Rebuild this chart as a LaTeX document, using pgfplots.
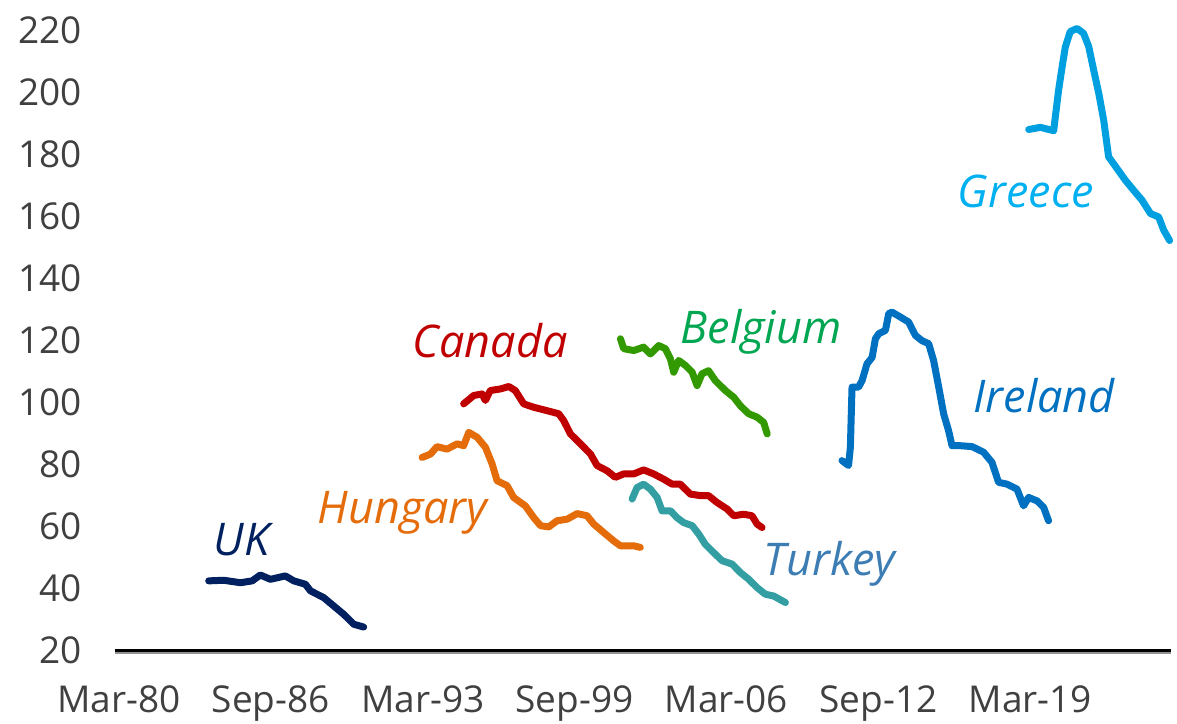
\documentclass[border=0pt]{standalone}
\usepackage{fontspec}
\setmainfont{Open Sans}
\usepackage{pgfplots}
\pgfplotsset{compat=1.18}
\usetikzlibrary{calc}
\definecolor{cUK}{HTML}{002060}
\definecolor{cHU}{HTML}{E46C0A}
\definecolor{cCA}{HTML}{C00000}
\definecolor{cBE}{HTML}{339900}
\definecolor{cBEl}{HTML}{00A651}
\definecolor{cTR}{HTML}{339FA3}
\definecolor{cTRl}{HTML}{3C7DB4}
\definecolor{cIE}{HTML}{0070C0}
\definecolor{cGR}{HTML}{00A0E0}
\definecolor{cGRl}{HTML}{00B0F0}
\definecolor{tickgray}{HTML}{404040}
\tikzset{lbl/.style={anchor=base west, inner sep=0pt, font=\itshape\fontsize{22.5bp}{26bp}\selectfont}}
\begin{document}
\begin{tikzpicture}
\begin{axis}[name=ax, scale only axis, width=528bp, height=310bp,
 xmin=1980.0, xmax=2025.19, ymin=20, ymax=220,
 axis x line*=bottom, axis y line*=left,
 x axis line style={-, black, line width=1.5bp},
 y axis line style={draw=none},
 major tick length=0pt,
 xtick={1980.167,1986.667,1993.167,1999.667,2006.167,2012.667,2019.167},
 xticklabels={Mar-80,Sep-86,Mar-93,Sep-99,Mar-06,Sep-12,Mar-19},
 ytick={20,40,...,220},
 tick label style={font=\fontsize{18.5bp}{22bp}\selectfont, text=tickgray},
 /pgf/number format/assume math mode=true,
 yticklabel style={anchor=east, inner sep=0pt, xshift=-16.5bp},
 xticklabel style={anchor=north, inner sep=0pt, yshift=-17.5bp},
 clip=false,
 every axis plot/.append style={line width=3.5bp, line join=round, line cap=round, mark=none},
]
% UK
\addplot[color=cUK] coordinates {
(1984.01,42.3)(1984.65,42.5)(1985.37,41.7)(1985.87,42.3)(1986.22,44.2)(1986.65,42.8)
(1987.29,43.9)(1987.65,42.3)(1988.15,41.2)(1988.36,39.1)(1988.93,36.9)(1989.36,34.2)
(1989.79,31.5)(1990.22,28.3)(1990.64,27.4)};
% Hungary
\addplot[color=cHU] coordinates {
(1993.14,82.1)(1993.50,83.2)(1993.78,85.6)(1994.21,84.8)(1994.64,86.5)(1994.92,85.9)
(1995.14,90.2)(1995.50,88.6)(1995.85,85.4)(1996.14,80.0)(1996.35,74.6)(1996.78,73.0)
(1997.06,69.2)(1997.56,66.5)(1997.92,62.7)(1998.21,60.1)(1998.56,59.7)(1998.92,61.7)
(1999.35,62.2)(1999.78,64.0)(2000.20,63.3)(2000.49,60.6)(2000.91,57.9)(2001.34,55.2)
(2001.63,53.6)(2002.20,53.6)(2002.48,53.1)};
% Canada
\addplot[color=cCA] coordinates {
(1994.92,99.4)(1995.35,102.1)(1995.71,102.6)(1995.85,100.5)(1996.06,103.7)(1996.49,104.2)
(1996.85,105.0)(1997.13,103.7)(1997.49,99.4)(1997.92,98.3)(1998.49,97.2)(1998.99,96.2)
(1999.20,94.0)(1999.49,89.7)(1999.92,86.5)(2000.35,83.2)(2000.63,79.5)(2001.06,77.8)
(2001.41,75.7)(2001.77,76.8)(2002.20,76.8)(2002.62,78.1)(2003.05,76.8)(2003.48,75.1)
(2003.84,73.5)(2004.19,73.5)(2004.62,70.3)(2005.05,69.8)(2005.40,69.8)(2005.76,67.6)
(2006.19,65.5)(2006.48,63.3)(2006.90,63.8)(2007.26,63.3)(2007.48,60.6)(2007.69,59.5)};
% Belgium
\addplot[color=cBE] coordinates {
(2001.63,120.4)(2001.77,117.2)(2002.20,116.6)(2002.62,117.7)(2002.91,115.5)(2003.27,118.2)
(2003.55,117.2)(2003.77,113.9)(2003.91,109.6)(2004.12,113.4)(2004.41,111.8)(2004.70,109.6)
(2004.91,105.3)(2005.12,109.1)(2005.40,110.1)(2005.69,106.9)(2006.12,103.7)(2006.48,101.5)
(2006.76,98.8)(2007.12,96.2)(2007.48,95.1)(2007.76,93.4)(2007.91,89.7)};
% Turkey
\addplot[color=cTR] coordinates {
(2002.13,68.7)(2002.34,72.4)(2002.62,73.5)(2002.91,71.9)(2003.20,69.2)(2003.41,64.9)
(2003.77,64.9)(2004.05,62.7)(2004.33,61.1)(2004.70,60.1)(2004.98,57.4)(2005.26,54.1)
(2005.62,51.4)(2005.98,48.8)(2006.41,47.7)(2006.76,45.0)(2007.12,42.8)(2007.48,40.1)
(2007.83,38.0)(2008.19,37.4)(2008.69,35.3)};
% Ireland
\addplot[color=cIE] coordinates {
(2011.11,81.1)(2011.39,79.5)(2011.47,85.4)(2011.50,94.0)(2011.54,104.8)(2011.82,104.8)
(2011.97,106.9)(2012.18,112.3)(2012.40,114.4)(2012.54,120.4)(2012.68,122.0)(2012.97,123.1)
(2013.11,128.5)(2013.25,129.0)(2013.61,127.4)(2013.96,125.8)(2014.25,121.5)(2014.53,119.8)
(2014.82,118.8)(2015.03,113.4)(2015.25,104.8)(2015.46,96.2)(2015.67,90.8)(2015.82,85.9)
(2016.18,85.9)(2016.68,85.6)(2017.17,83.8)(2017.53,80.5)(2017.81,74.1)(2018.17,73.5)
(2018.60,71.9)(2018.88,66.5)(2019.10,69.2)(2019.46,68.1)(2019.74,66.0)(2019.95,61.7)};
% Greece
\addplot[color=cGR] coordinates {
(2019.10,187.9)(2019.60,188.6)(2020.17,187.5)(2020.24,192.0)(2020.38,200.6)(2020.53,208.1)
(2020.67,214.6)(2020.88,219.5)(2021.17,220.5)(2021.45,218.9)(2021.67,214.6)(2021.88,207.1)
(2022.10,199.5)(2022.31,190.9)(2022.52,179.1)(2022.88,175.3)(2023.24,171.5)(2023.59,168.3)
(2023.95,165.1)(2024.31,160.8)(2024.66,159.7)(2024.88,155.4)(2025.13,152.1)};
% labels
\node[lbl, text=cUK] at (axis cs:1984.21,50.4) {UK};
\node[lbl, text=cHU] at (axis cs:1988.66,60.7) {Hungary};
\node[lbl, text=cCA] at (axis cs:1992.73,114.3) {Canada};
\node[lbl, text=cBEl] at (axis cs:2004.19,118.9) {Belgium};
\node[lbl, text=cTRl] at (axis cs:2007.75,43.9) {Turkey};
\node[lbl, text=cIE] at (axis cs:2016.73,96.6) {Ireland};
\node[lbl, text=cGRl] at (axis cs:2016.05,162.8) {Greece};
\end{axis}
\draw[color=gray!85, line width=1bp] ($(ax.south west)+(0,-1.25bp)$) -- ($(ax.south east)+(0,-1.25bp)$);
\pgfresetboundingbox
\path ($(ax.south west)+(-57.5bp,-37bp)$) rectangle ($(ax.north east)+(3bp,15bp)$);
\end{tikzpicture}
\end{document}
